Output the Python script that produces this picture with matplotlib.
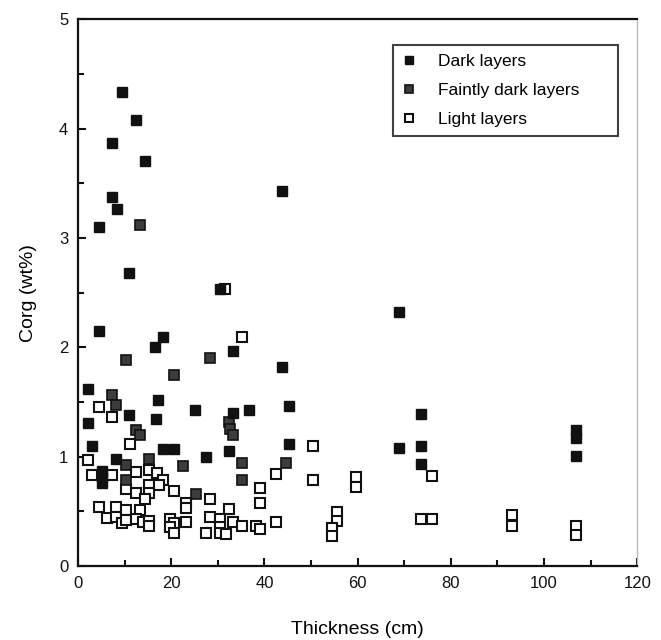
import matplotlib
matplotlib.use("Agg")
import matplotlib.pyplot as plt
from matplotlib.ticker import MultipleLocator

plt.rcParams['font.family'] = ['Liberation Sans', 'DejaVu Sans']

# Dark layers
dark_x = [9.4, 12.4, 7.2, 14.4, 7.4, 8.3, 4.4, 10.9, 30.5, 4.5, 18.3, 16.6, 33.3, 2.2, 17.2,
          25.1, 36.7, 33.2, 11.0, 16.7, 2.2, 3.1, 18.3, 20.5, 32.5, 27.5, 8.2, 5.1, 5.1, 5.1,
          43.7, 68.9, 43.7, 45.3, 73.7, 45.3, 68.9, 73.7, 73.7, 106.9, 106.9, 106.9]
dark_y = [4.33, 4.08, 3.87, 3.70, 3.37, 3.26, 3.10, 2.68, 2.53, 2.15, 2.09, 2.00, 1.97, 1.62, 1.52,
          1.43, 1.43, 1.40, 1.38, 1.34, 1.31, 1.10, 1.07, 1.07, 1.05, 1.00, 0.98, 0.87, 0.81, 0.76,
          3.43, 2.32, 1.82, 1.46, 1.39, 1.12, 1.08, 1.10, 0.93, 1.24, 1.17, 1.01]

# Faintly dark layers
faint_x = [13.2, 10.3, 28.3, 20.5, 7.2, 8.2, 32.5, 32.6, 33.3, 12.4, 13.3, 15.3, 35.3, 10.3,
           22.5, 10.3, 35.3, 25.3, 44.6]
faint_y = [3.12, 1.88, 1.90, 1.75, 1.56, 1.47, 1.32, 1.25, 1.20, 1.24, 1.20, 0.98, 0.94, 0.92,
           0.91, 0.79, 0.79, 0.66, 0.94]

# Light layers
light_x = [31.5, 35.3, 4.4, 7.2, 11.2, 2.2, 3.1, 7.2, 12.4, 15.3, 16.9, 18.3, 10.3, 15.3, 17.4,
           20.5, 12.4, 15.3, 14.4, 23.2, 23.2, 28.3, 39.1, 39.1, 4.4, 32.5, 8.2, 6.2, 8.2, 10.3,
           9.4, 10.3, 13.2, 12.4, 14.0, 15.3, 15.3, 19.7, 20.5, 19.7, 20.5, 23.2, 27.5, 28.3, 30.5,
           30.5, 30.5, 31.8, 33.3, 35.3, 38.3, 39.1, 50.5, 42.5, 75.9, 50.5, 59.7, 59.7, 42.5,
           55.5, 55.5, 54.4, 54.4, 73.7, 75.9, 93.1, 93.1, 106.9, 106.9]
light_y = [2.53, 2.09, 1.45, 1.36, 1.12, 0.97, 0.83, 0.83, 0.86, 0.88, 0.85, 0.79, 0.70, 0.74, 0.74,
           0.69, 0.67, 0.67, 0.61, 0.58, 0.53, 0.61, 0.71, 0.58, 0.54, 0.52, 0.54, 0.44, 0.45, 0.51,
           0.39, 0.42, 0.51, 0.43, 0.40, 0.41, 0.37, 0.43, 0.39, 0.36, 0.30, 0.40, 0.30, 0.45, 0.43,
           0.36, 0.30, 0.29, 0.40, 0.37, 0.37, 0.34, 1.10, 0.84, 0.82, 0.79, 0.81, 0.72, 0.40,
           0.49, 0.41, 0.35, 0.27, 0.43, 0.43, 0.47, 0.37, 0.37, 0.28]

fig = plt.figure(figsize=(6.61, 6.40), dpi=100)
ax = fig.add_axes([0.118, 0.1156, 0.846, 0.8544])

ms = 7.2
ax.plot(light_x, light_y, 's', ms=ms, mfc='white', mec='#111111', mew=1.5,
        linestyle='none', label='Light layers', zorder=3)
ax.plot(faint_x, faint_y, 's', ms=ms, mfc='#3c3c3c', mec='#111111', mew=1.2,
        linestyle='none', label='Faintly dark layers', zorder=4)
ax.plot(dark_x, dark_y, 's', ms=ms, mfc='#111111', mec='#111111', mew=1.0,
        linestyle='none', label='Dark layers', zorder=5)

ax.set_xlim(0, 120)
ax.set_ylim(0, 5)
ax.xaxis.set_major_locator(MultipleLocator(20))
ax.xaxis.set_minor_locator(MultipleLocator(10))
ax.yaxis.set_major_locator(MultipleLocator(1))
ax.yaxis.set_minor_locator(MultipleLocator(0.5))
ax.tick_params(which='both', direction='in', top=False, right=False, width=1.5,
               labelsize=12, colors='#111111')
ax.tick_params(which='major', length=6, pad=7)
ax.tick_params(which='minor', length=4)

for s in ['left', 'bottom', 'top']:
    ax.spines[s].set_linewidth(1.6)
    ax.spines[s].set_color('#111111')
ax.spines['right'].set_linewidth(1.0)
ax.spines['right'].set_color('#bbbbbb')

ax.set_xlabel('Thickness (cm)', fontsize=14, labelpad=22)
ax.set_ylabel('Corg (wt%)', fontsize=14, labelpad=16)

handles, labels = ax.get_legend_handles_labels()
order = [2, 1, 0]
leg = ax.legend([handles[i] for i in order], [labels[i] for i in order],
                loc='upper left', bbox_to_anchor=(0.5635, 0.79, 0.4025, 0.162),
                mode='expand', fontsize=12.5,
                frameon=True, fancybox=False, edgecolor='#111111', handlelength=0.8,
                handletextpad=1.3, borderpad=0.5, labelspacing=0.8, markerscale=0.8,
                borderaxespad=0)
leg.get_frame().set_linewidth(1.5)

fig.savefig('out.png', dpi=100)
